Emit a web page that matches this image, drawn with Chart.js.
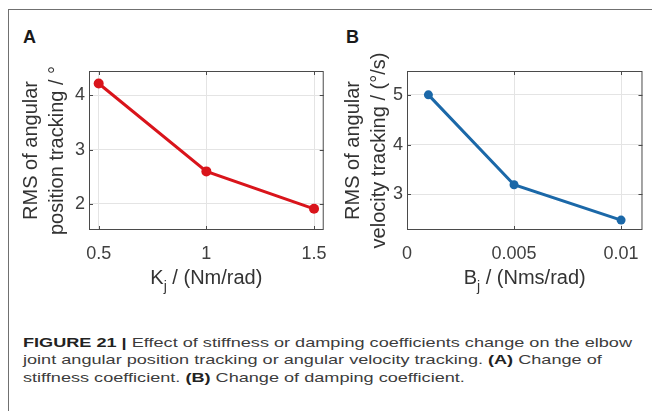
<!DOCTYPE html>
<html>
<head>
<meta charset="utf-8">
<script src="https://cdn.jsdelivr.net/npm/chart.js@4.4.1/dist/chart.umd.min.js"></script>
<style>
  html, body { margin: 0; padding: 0; background: #fff; overflow: hidden; }
  body { width: 652px; height: 411px; position: relative; font-family: "Liberation Sans", Arial, sans-serif; }
  .frame { position: absolute; left: 8px; top: 9px; width: 700px; height: 450px; border: 1px solid #707070; }
  .panel { position: absolute; top: 28px; font: bold 18px/18px "Liberation Sans", Arial, sans-serif; color: #1a1a1a; }
  canvas { position: absolute; top: 0; }
  #caption { position: absolute; left: 23px; top: 333.5px; font-size: 13.5px; line-height: 17.8px; color: #3c3c3c;
             font-family: "Liberation Sans Narrow", "Arial Narrow", "Liberation Sans", Arial, sans-serif; }
  #caption div { white-space: nowrap; }
  #caption .ln { display: inline-block; transform-origin: 0 0; }
  #caption b { color: #222; }
</style>
</head>
<body>
<div class="frame"></div>
<div class="panel" style="left:23px">A</div>
<div class="panel" style="left:346px">B</div>
<canvas id="chartA" width="340" height="300" style="left:0"></canvas>
<canvas id="chartB" width="332" height="300" style="left:320px"></canvas>
<div id="caption">
  <div><span class="ln"><b>FIGURE 21 |</b> Effect of stiffness or damping coefficients change on the elbow</span></div>
  <div><span class="ln">joint angular position tracking or angular velocity tracking. <b>(A)</b> Change of</span></div>
  <div><span class="ln">stiffness coefficient. <b>(B)</b> Change of damping coefficient.</span></div>
</div>
<script>
// panel A: stiffness sweep
const stiffness = [0.5, 1, 1.5];
const rmsPosition = [4.22, 2.6, 1.91];
const stiffnessTicks = [0.5, 1, 1.5];
const positionTicks = [2, 3, 4];

// panel B: damping sweep
const damping = [0.001, 0.005, 0.01];
const rmsVelocity = [5.0, 3.19, 2.48];
const dampingTicks = [0, 0.005, 0.01];
const velocityTicks = [3, 4, 5];

const FONT = '"Liberation Sans", Arial, sans-serif';

// MATLAB-like axes box with inward ticks
const axesBox = {
    id: 'axesBox',
    afterDatasetsDraw(chart) {
        const {ctx, chartArea: a, scales} = chart;
        ctx.save();
        ctx.strokeStyle = '#4a4a4a';
        ctx.lineWidth = 1;
        ctx.strokeRect(a.left + 0.5, a.top + 0.5, a.right - a.left - 1, a.bottom - a.top - 1);
        ctx.beginPath();
        scales.x.ticks.forEach(t => {
            const x = Math.round(scales.x.getPixelForValue(t.value)) + 0.5;
            ctx.moveTo(x, a.bottom); ctx.lineTo(x, a.bottom - 4);
            ctx.moveTo(x, a.top); ctx.lineTo(x, a.top + 4);
        });
        scales.y.ticks.forEach(t => {
            const y = Math.round(scales.y.getPixelForValue(t.value)) + 0.5;
            ctx.moveTo(a.left, y); ctx.lineTo(a.left + 4, y);
            ctx.moveTo(a.right, y); ctx.lineTo(a.right - 4, y);
        });
        ctx.stroke();
        ctx.restore();
    },
    // x label with a subscript
    afterDraw(chart, args, opts) {
        const {ctx, chartArea: a} = chart;
        ctx.save();
        ctx.fillStyle = '#333';
        ctx.textBaseline = 'alphabetic';
        ctx.textAlign = 'left';
        const big = '20px ' + FONT, small = '14px ' + FONT;
        ctx.font = big;
        const w1 = ctx.measureText(opts.main).width;
        const w3 = ctx.measureText(opts.rest).width;
        ctx.font = small;
        const w2 = ctx.measureText(opts.sub).width;
        let x = (a.left + a.right) / 2 - (w1 + w2 + w3) / 2;
        const y = 284;
        ctx.font = big;
        ctx.fillText(opts.main, x, y);
        x += w1;
        ctx.font = small;
        ctx.fillText(opts.sub, x, y + 7);
        x += w2;
        ctx.font = big;
        ctx.fillText(opts.rest, x, y);
        ctx.restore();
    }
};

function makeChart(id, xs, ys, color, radius, xr, yr, xTicks, yTicks, yTitle, titlePad, yWidth, padRight, xLabel) {
    return new Chart(document.getElementById(id), {
        type: 'line',
        data: {
            datasets: [{
                data: xs.map((x, i) => ({x: x, y: ys[i]})),
                borderColor: color,
                backgroundColor: color,
                borderWidth: 3,
                pointRadius: radius,
                pointHoverRadius: radius,
                pointBorderWidth: 0,
                tension: 0,
            }],
        },
        options: {
            responsive: false,
            animation: false,
            layout: {
                padding: {top: 71, right: padRight, left: 0, bottom: 0},
            },
            scales: {
                x: {
                    type: 'linear',
                    min: xr[0],
                    max: xr[1],
                    afterBuildTicks: s => { s.ticks = xTicks.map(v => ({value: v})); },
                    afterFit: s => { s.height = 70; },
                    grid: {color: '#e4e4e4', drawTicks: false},
                    border: {display: false},
                    ticks: {
                        color: '#404040',
                        padding: 13,
                        maxRotation: 0,
                        font: {size: 18, family: FONT},
                        callback: v => String(v),
                    },
                },
                y: {
                    min: yr[0],
                    max: yr[1],
                    afterBuildTicks: s => { s.ticks = yTicks.map(v => ({value: v})); },
                    afterFit: s => { s.width = yWidth; },
                    grid: {color: '#e4e4e4', drawTicks: false},
                    border: {display: false},
                    ticks: {
                        color: '#404040',
                        padding: 4,
                        font: {size: 18, family: FONT},
                        callback: v => String(v),
                    },
                    title: {
                        display: true,
                        text: yTitle,
                        color: '#333',
                        padding: {top: titlePad, bottom: 0},
                        font: {size: 20, family: FONT, lineHeight: 1.3},
                    },
                },
            },
            plugins: {
                legend: {display: false},
                tooltip: {enabled: false},
                axesBox: xLabel,
            },
        },
        plugins: [axesBox],
    });
}

makeChart('chartA', stiffness, rmsPosition, '#d9141b', 5,
    [0.455, 1.545], [1.52, 4.45], stiffnessTicks, positionTicks,
    ['RMS of angular', 'position tracking / \u00b0'], 18, 89, 11,
    {main: 'K', sub: 'j', rest: ' / (Nm/rad)'});

makeChart('chartB', damping, rmsVelocity, '#1b68a8', 4.5,
    [0, 0.011], [2.28, 5.48], dampingTicks, velocityTicks,
    ['RMS of angular', 'velocity tracking / (\u00b0/s)'], 20, 87, 4,
    {main: 'B', sub: 'j', rest: ' / (Nms/rad)'});

// squeeze the caption to the width of the original's condensed face
const lines = document.querySelectorAll('#caption .ln');
const k = 609 / lines[0].getBoundingClientRect().width;
lines.forEach(l => { l.style.transform = 'scaleX(' + k + ')'; });
</script>
</body>
</html>
